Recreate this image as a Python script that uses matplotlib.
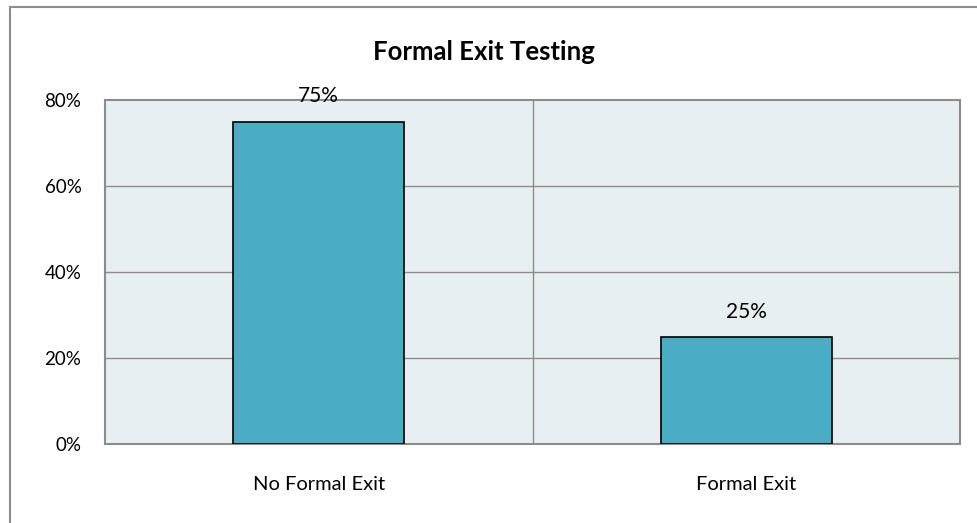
import matplotlib
matplotlib.use("Agg")
import matplotlib.pyplot as plt
from matplotlib.lines import Line2D

categories = ["No Formal Exit", "Formal Exit"]
values = [75, 25]
yticks = [0, 20, 40, 60, 80]
ytick_labels = ["0%", "20%", "40%", "60%", "80%"]
title = "Formal Exit Testing"

plt.rcParams['font.family'] = ['Lato', 'DejaVu Sans']

fig = plt.figure(figsize=(9.77, 5.23), dpi=100)
ax = fig.add_axes([105/977, 1 - 444/523, (960-105)/977, (444-100)/523])
ax.set_facecolor("#E8EFF3")

x = list(range(len(categories)))
bars = ax.bar(x, values, width=0.4, color="#4BACC6", edgecolor="black", linewidth=1.2, zorder=3)
for xi, v in zip(x, values):
    ax.annotate(f"{v}%", (xi, v), xytext=(0, 18), textcoords="offset points",
                ha="center", va="center", fontsize=15, zorder=5)

ax.set_xlim(-0.5, len(categories) - 0.5)
ax.set_ylim(0, 80)
ax.set_yticks(yticks)
ax.set_yticklabels(ytick_labels, fontsize=13.5)
ax.set_xticks(x)
ax.set_xticklabels(categories, fontsize=14.5)
ax.tick_params(axis="both", length=0)
ax.tick_params(axis="x", pad=23)
ax.tick_params(axis="y", pad=17)

for y in yticks[1:-1]:
    ax.axhline(y, color="#8C8C8C", linewidth=1.0, zorder=1)
ax.axvline(0.5, color="#8C8C8C", linewidth=1.0, zorder=1)
for s in ax.spines.values():
    s.set_color("#8C8C8C")
    s.set_linewidth(1.5)

fig.text(484/977, 1 - 52/523, title, ha="center", va="center", fontsize=18.5, fontweight="bold")

# outer chart border (top and left visible)
fig.add_artist(Line2D([10/977, 10/977], [0, 1 - 7/523], transform=fig.transFigure, color="#8C8C8C", linewidth=1.5))
fig.add_artist(Line2D([10/977, 1], [1 - 7/523, 1 - 7/523], transform=fig.transFigure, color="#8C8C8C", linewidth=1.5))

fig.savefig("out.png", dpi=100)
